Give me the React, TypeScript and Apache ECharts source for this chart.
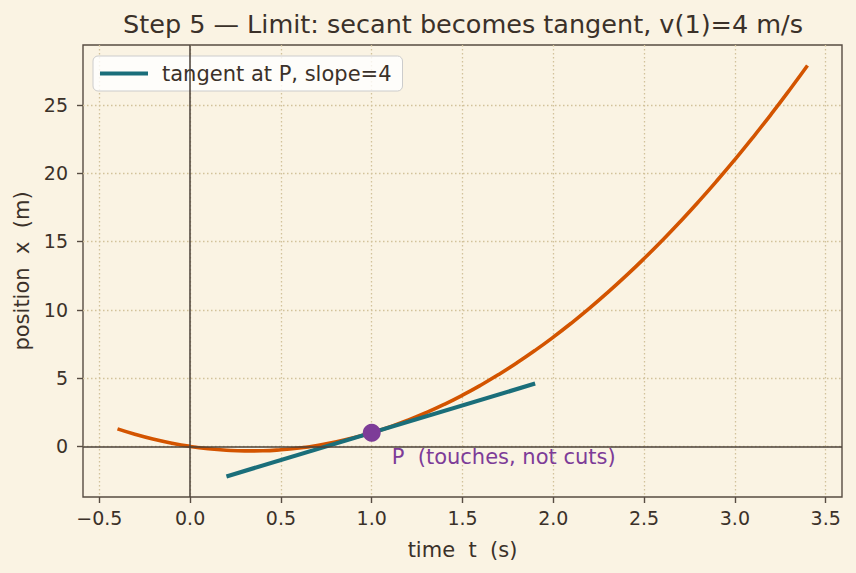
import React, { useEffect, useRef } from "react";
import * as echarts from "echarts";

const titleText = "Step 5 — Limit: secant becomes tangent, v(1)=4 m/s";
const xName = "time  t  (s)";
const yName = "position  x  (m)";
const legendName = "tangent at P, slope=4";
const annotationText = "P  (touches, not cuts)";

// position curve x(t), sampled every 0.1 s
const tValues = [
  -0.4, -0.3, -0.2, -0.1, 0.0, 0.1, 0.2, 0.3, 0.4, 0.5, 0.6, 0.7, 0.8, 0.9, 1.0,
  1.1, 1.2, 1.3, 1.4, 1.5, 1.6, 1.7, 1.8, 1.9, 2.0, 2.1, 2.2, 2.3, 2.4, 2.5, 2.6,
  2.7, 2.8, 2.9, 3.0, 3.1, 3.2, 3.3, 3.4,
];
const xValues = [
  1.28, 0.87, 0.52, 0.23, 0, -0.17, -0.28, -0.33, -0.32, -0.25, -0.12, 0.07, 0.32,
  0.63, 1, 1.43, 1.92, 2.47, 3.08, 3.75, 4.48, 5.27, 6.12, 7.03, 8, 9.03, 10.12,
  11.27, 12.48, 13.75, 15.08, 16.47, 17.92, 19.43, 21, 22.63, 24.32, 26.07, 27.88,
];
// tangent segment endpoints
const tangentT = [0.2, 1.9];
const tangentX = [-2.2, 4.6];
// point P and its annotation anchor
const pointP = [1, 1];
const annotationAnchor = [1.11, -0.8];

const xTicks = [-0.5, 0, 0.5, 1, 1.5, 2, 2.5, 3, 3.5];
const yTicks = [0, 5, 10, 15, 20, 25];
const xRange = [-0.59, 3.59];
const yRange = [-3.704, 29.384];

const BG = "#faf3e3";
const TEXT = "#3b3129";
const SPINE = "#574c42";
const GRID = "#d2c29a";
const ORANGE = "#d35400";
const TEAL = "#1a6e7a";
const PURPLE = "#7d3c98";
const FONT = "DejaVu Sans";

export default function App() {
  const ref = useRef<HTMLDivElement>(null);
  useEffect(() => {
    if (!ref.current) return;
    const chart = echarts.init(ref.current, undefined, { renderer: "svg" });
    const curve = tValues.map((t, i) => [t, xValues[i]]);
    const tangent = tangentT.map((t, i) => [t, tangentX[i]]);
    chart.setOption({
      animation: false,
      backgroundColor: BG,
      textStyle: { fontFamily: FONT, color: TEXT },
      title: {
        text: titleText,
        left: 458,
        textAlign: "center",
        top: 6,
        textStyle: { fontFamily: FONT, fontSize: 25.5, fontWeight: "normal", color: TEXT },
      },
      legend: {
        data: [legendName],
        left: 93,
        top: 56,
        icon: "rect",
        itemWidth: 48,
        itemHeight: 4,
        padding: [7, 11, 7, 7],
        backgroundColor: "rgba(255,255,255,0.8)",
        borderColor: "#cccccc",
        borderWidth: 1,
        borderRadius: 5,
        textStyle: { fontFamily: FONT, fontSize: 21, color: TEXT, padding: [0, 0, 0, 9] },
      },
      grid: {
        left: 83,
        right: 14,
        top: 45,
        bottom: 76,
        show: true,
        borderColor: SPINE,
        borderWidth: 1.4,
        backgroundColor: "transparent",
      },
      xAxis: {
        type: "value",
        min: xRange[0],
        max: xRange[1],
        name: xName,
        nameLocation: "middle",
        nameGap: 42,
        nameTextStyle: { fontFamily: FONT, fontSize: 21, color: TEXT },
        axisLine: { show: false, onZero: false },
        axisTick: {
          show: true,
          customValues: xTicks,
          length: 6,
          lineStyle: { color: SPINE, width: 1.4 },
        },
        axisLabel: {
          customValues: xTicks,
          fontFamily: FONT,
          fontSize: 19,
          color: TEXT,
          margin: 11,
          formatter: (v: number) => v.toFixed(1).replace("-", "\u2212"),
        },
        splitLine: { show: true, lineStyle: { type: [1.5, 2.5], color: GRID, width: 1.3 } },
      },
      yAxis: {
        type: "value",
        min: yRange[0],
        max: yRange[1],
        name: yName,
        nameLocation: "middle",
        nameRotate: 90,
        nameGap: 50,
        nameTextStyle: { fontFamily: FONT, fontSize: 21, color: TEXT },
        axisLine: { show: false, onZero: false },
        axisTick: {
          show: true,
          customValues: yTicks,
          length: 6,
          lineStyle: { color: SPINE, width: 1.4 },
        },
        axisLabel: {
          customValues: yTicks,
          fontFamily: FONT,
          fontSize: 19,
          color: TEXT,
          margin: 15,
          formatter: (v: number) => String(Math.round(v)),
        },
        splitLine: { show: true, lineStyle: { type: [1.5, 2.5], color: GRID, width: 1.3 } },
      },
      series: [
        {
          type: "line",
          name: "zero",
          data: [],
          silent: true,
          markLine: {
            silent: true,
            symbol: "none",
            label: { show: false },
            lineStyle: { color: "#4a4038", width: 1.5, type: "solid" },
            data: [{ xAxis: 0 }, { yAxis: 0 }],
          },
        },
        {
          type: "line",
          name: "x(t)",
          data: curve,
          smooth: true,
          showSymbol: false,
          silent: true,
          lineStyle: { color: ORANGE, width: 3.6 },
          itemStyle: { color: ORANGE },
        },
        {
          type: "line",
          name: legendName,
          data: tangent,
          showSymbol: false,
          silent: true,
          lineStyle: { color: TEAL, width: 4.2 },
          itemStyle: { color: TEAL },
        },
        {
          type: "scatter",
          name: "P",
          data: [pointP],
          symbolSize: 18,
          silent: true,
          itemStyle: { color: PURPLE, opacity: 1 },
          z: 5,
        },
        {
          type: "scatter",
          name: "annotation",
          data: [annotationAnchor],
          symbolSize: 0,
          silent: true,
          itemStyle: { color: PURPLE, opacity: 1 },
          label: {
            show: true,
            position: "right",
            distance: 0,
            formatter: annotationText,
            fontFamily: FONT,
            fontSize: 21,
            color: PURPLE,
            opacity: 1,
          },
          z: 5,
        },
      ],
    });
    return () => chart.dispose();
  }, []);
  return (
    <div
      ref={ref}
      style={{ position: "fixed", left: 0, top: 0, width: 856, height: 573 }}
    />
  );
}
